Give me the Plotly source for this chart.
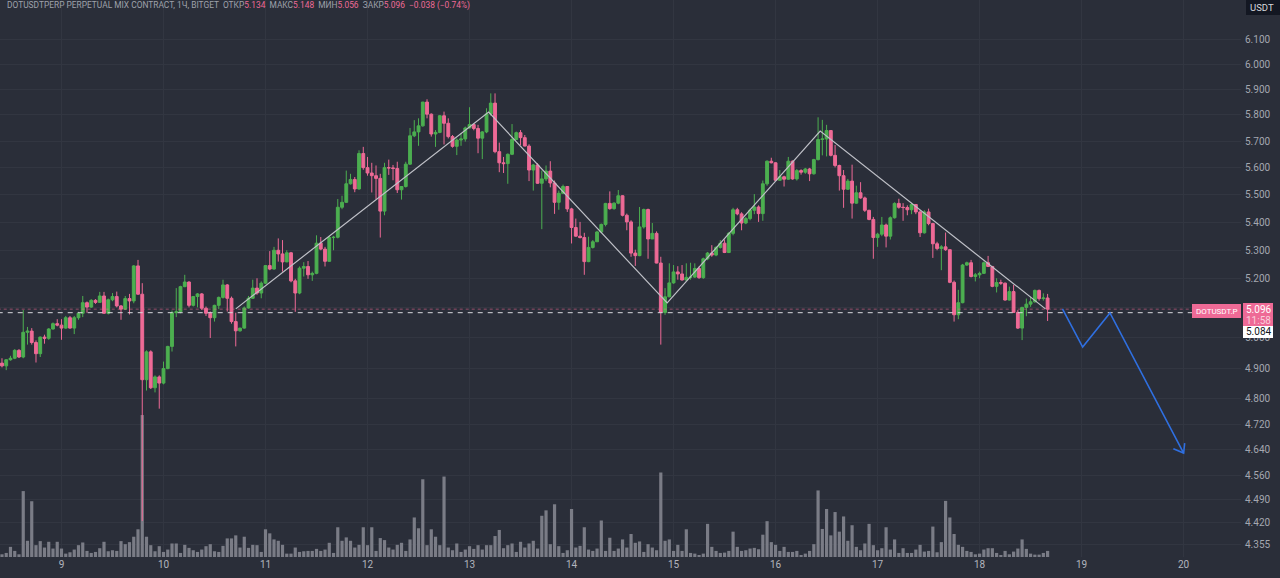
# -*- coding: utf-8 -*-
import pandas as pd
import plotly.graph_objects as go

# hourly candles, first one at 09:00 on the 8th
first_bar = "2023-06-08 09:00"

opens = [
    4.893, 4.916, 4.907, 4.927, 4.932, 4.958, 4.936, 5.018, 5.022, 4.984,
    4.947, 5.002, 4.998, 5.029, 5.047, 5.042, 5.032, 5.067, 5.032, 5.067,
    5.082, 5.118, 5.103, 5.126, 5.119, 5.141, 5.082, 5.128, 5.139, 5.107,
    5.096, 5.132, 5.124, 5.245, 5.147, 4.862, 4.953, 4.836, 4.871, 4.851,
    4.898, 4.971, 5.084, 5.087, 5.173, 5.189, 5.109, 5.139, 5.148, 5.099,
    5.082, 5.067, 5.109, 5.136, 5.179, 5.133, 5.054, 5.023, 5.032, 5.100,
    5.133, 5.168, 5.151, 5.185, 5.246, 5.234, 5.300, 5.287, 5.259, 5.291,
    5.193, 5.151, 5.237, 5.243, 5.214, 5.219, 5.325, 5.304, 5.261, 5.345,
    5.346, 5.454, 5.472, 5.540, 5.556, 5.521, 5.653, 5.600, 5.580, 5.570,
    5.560, 5.440, 5.600, 5.599, 5.597, 5.518, 5.530, 5.613, 5.720, 5.735,
    5.758, 5.850, 5.803, 5.727, 5.733, 5.797, 5.768, 5.717, 5.680, 5.704,
    5.708, 5.750, 5.763, 5.748, 5.711, 5.735, 5.804, 5.846, 5.660, 5.618,
    5.615, 5.650, 5.706, 5.732, 5.713, 5.681, 5.591, 5.610, 5.542, 5.558,
    5.587, 5.543, 5.472, 5.505, 5.530, 5.448, 5.381, 5.350, 5.345, 5.260,
    5.310, 5.330, 5.365, 5.392, 5.468, 5.449, 5.469, 5.496, 5.425, 5.401,
    5.290, 5.281, 5.383, 5.446, 5.340, 5.360, 5.255, 5.085, 5.138, 5.186,
    5.224, 5.217, 5.196, 5.205, 5.206, 5.236, 5.204, 5.270, 5.290, 5.283,
    5.310, 5.325, 5.292, 5.360, 5.445, 5.430, 5.397, 5.413, 5.443, 5.455,
    5.431, 5.540, 5.624, 5.618, 5.553, 5.566, 5.557, 5.624, 5.558, 5.589,
    5.583, 5.595, 5.577, 5.630, 5.706, 5.708, 5.740, 5.646, 5.608, 5.570,
    5.520, 5.550, 5.469, 5.507, 5.488, 5.443, 5.410, 5.345, 5.357, 5.390,
    5.350, 5.416, 5.468, 5.454, 5.453, 5.445, 5.464, 5.437, 5.362, 5.437,
    5.395, 5.323, 5.306, 5.312, 5.302, 5.188, 5.077, 5.118, 5.248, 5.256,
    5.208, 5.214, 5.219, 5.256, 5.243, 5.174, 5.187, 5.185, 5.127, 5.156,
    5.085, 5.032, 5.102, 5.113, 5.121, 5.160, 5.132, 5.134,
]
highs = [
    4.921, 4.932, 4.929, 4.940, 4.962, 4.962, 5.093, 5.036, 5.032, 4.991,
    5.004, 5.010, 5.032, 5.051, 5.062, 5.062, 5.073, 5.073, 5.073, 5.087,
    5.141, 5.122, 5.130, 5.130, 5.155, 5.155, 5.132, 5.151, 5.156, 5.110,
    5.141, 5.148, 5.248, 5.266, 5.185, 4.958, 4.958, 4.876, 4.876, 4.921,
    4.973, 5.091, 5.168, 5.176, 5.214, 5.191, 5.141, 5.151, 5.151, 5.105,
    5.088, 5.111, 5.139, 5.197, 5.182, 5.139, 5.084, 5.033, 5.105, 5.141,
    5.197, 5.202, 5.191, 5.248, 5.297, 5.312, 5.342, 5.336, 5.300, 5.294,
    5.200, 5.243, 5.258, 5.262, 5.225, 5.353, 5.347, 5.312, 5.351, 5.351,
    5.484, 5.496, 5.589, 5.577, 5.565, 5.665, 5.678, 5.640, 5.618, 5.608,
    5.577, 5.618, 5.630, 5.610, 5.622, 5.530, 5.622, 5.750, 5.780, 5.787,
    5.851, 5.861, 5.806, 5.742, 5.800, 5.813, 5.787, 5.723, 5.710, 5.730,
    5.755, 5.830, 5.766, 5.762, 5.738, 5.826, 5.884, 5.884, 5.694, 5.640,
    5.653, 5.765, 5.736, 5.742, 5.723, 5.688, 5.614, 5.617, 5.589, 5.608,
    5.624, 5.552, 5.515, 5.537, 5.532, 5.452, 5.413, 5.401, 5.362, 5.348,
    5.336, 5.369, 5.395, 5.470, 5.512, 5.472, 5.517, 5.498, 5.431, 5.407,
    5.302, 5.455, 5.449, 5.449, 5.397, 5.367, 5.277, 5.168, 5.254, 5.248,
    5.244, 5.248, 5.254, 5.256, 5.254, 5.243, 5.274, 5.294, 5.318, 5.314,
    5.336, 5.338, 5.365, 5.452, 5.452, 5.436, 5.419, 5.449, 5.502, 5.461,
    5.552, 5.627, 5.637, 5.620, 5.591, 5.570, 5.640, 5.627, 5.595, 5.594,
    5.599, 5.599, 5.633, 5.791, 5.781, 5.762, 5.742, 5.685, 5.611, 5.591,
    5.558, 5.611, 5.533, 5.546, 5.493, 5.445, 5.419, 5.362, 5.419, 5.395,
    5.421, 5.472, 5.485, 5.469, 5.461, 5.469, 5.466, 5.443, 5.443, 5.449,
    5.398, 5.330, 5.318, 5.363, 5.302, 5.194, 5.162, 5.252, 5.260, 5.266,
    5.220, 5.225, 5.260, 5.280, 5.245, 5.202, 5.197, 5.187, 5.173, 5.179,
    5.093, 5.104, 5.132, 5.138, 5.163, 5.163, 5.150, 5.148,
]
lows = [
    4.884, 4.902, 4.893, 4.924, 4.929, 4.933, 4.932, 4.977, 4.977, 4.918,
    4.936, 4.980, 4.993, 5.027, 5.038, 4.993, 5.030, 5.030, 5.012, 5.060,
    5.069, 5.084, 5.100, 5.114, 5.118, 5.080, 5.078, 5.123, 5.102, 5.060,
    5.093, 5.078, 5.116, 5.145, 4.425, 4.827, 4.832, 4.821, 4.769, 4.847,
    4.896, 4.954, 5.069, 5.082, 5.171, 5.102, 5.105, 5.102, 5.093, 5.073,
    4.999, 5.054, 5.096, 5.132, 5.088, 5.047, 4.971, 5.020, 5.030, 5.098,
    5.131, 5.145, 5.133, 5.182, 5.230, 5.232, 5.260, 5.225, 5.258, 5.188,
    5.087, 5.147, 5.208, 5.200, 5.193, 5.216, 5.300, 5.243, 5.260, 5.300,
    5.342, 5.447, 5.470, 5.537, 5.509, 5.518, 5.592, 5.570, 5.508, 5.484,
    5.345, 5.425, 5.573, 5.553, 5.506, 5.482, 5.526, 5.610, 5.715, 5.682,
    5.755, 5.787, 5.717, 5.678, 5.730, 5.687, 5.710, 5.675, 5.647, 5.682,
    5.698, 5.748, 5.741, 5.654, 5.632, 5.730, 5.797, 5.654, 5.583, 5.580,
    5.540, 5.647, 5.704, 5.685, 5.680, 5.550, 5.515, 5.540, 5.375, 5.550,
    5.527, 5.430, 5.445, 5.502, 5.437, 5.324, 5.348, 5.342, 5.214, 5.258,
    5.306, 5.330, 5.362, 5.385, 5.445, 5.445, 5.465, 5.421, 5.371, 5.277,
    5.245, 5.279, 5.377, 5.270, 5.340, 5.254, 4.977, 5.077, 5.137, 5.183,
    5.197, 5.194, 5.194, 5.197, 5.203, 5.200, 5.200, 5.265, 5.277, 5.279,
    5.306, 5.290, 5.290, 5.353, 5.425, 5.371, 5.393, 5.407, 5.429, 5.401,
    5.405, 5.533, 5.616, 5.552, 5.552, 5.530, 5.555, 5.555, 5.552, 5.574,
    5.577, 5.550, 5.574, 5.627, 5.646, 5.642, 5.642, 5.601, 5.515, 5.452,
    5.517, 5.413, 5.467, 5.485, 5.437, 5.407, 5.270, 5.312, 5.350, 5.310,
    5.338, 5.413, 5.449, 5.405, 5.425, 5.429, 5.429, 5.347, 5.359, 5.389,
    5.273, 5.300, 5.230, 5.298, 5.185, 5.054, 5.062, 5.116, 5.245, 5.205,
    5.191, 5.202, 5.217, 5.241, 5.171, 5.153, 5.179, 5.125, 5.125, 5.083,
    5.029, 4.992, 5.072, 5.104, 5.118, 5.125, 5.125, 5.056,
]
closes = [
    4.916, 4.907, 4.927, 4.932, 4.958, 4.936, 5.018, 5.022, 4.984, 4.947,
    5.002, 4.998, 5.029, 5.047, 5.042, 5.032, 5.067, 5.032, 5.067, 5.082,
    5.118, 5.103, 5.126, 5.119, 5.141, 5.082, 5.128, 5.139, 5.107, 5.096,
    5.132, 5.124, 5.245, 5.147, 4.862, 4.953, 4.836, 4.871, 4.851, 4.898,
    4.971, 5.084, 5.087, 5.173, 5.189, 5.109, 5.139, 5.148, 5.099, 5.082,
    5.067, 5.109, 5.136, 5.179, 5.133, 5.054, 5.023, 5.032, 5.100, 5.133,
    5.168, 5.151, 5.185, 5.246, 5.234, 5.300, 5.287, 5.259, 5.291, 5.193,
    5.151, 5.237, 5.243, 5.214, 5.219, 5.325, 5.304, 5.261, 5.345, 5.346,
    5.454, 5.472, 5.540, 5.556, 5.521, 5.653, 5.600, 5.580, 5.570, 5.560,
    5.440, 5.600, 5.599, 5.597, 5.518, 5.530, 5.613, 5.720, 5.735, 5.758,
    5.850, 5.803, 5.727, 5.733, 5.797, 5.768, 5.717, 5.680, 5.704, 5.708,
    5.750, 5.763, 5.748, 5.711, 5.735, 5.804, 5.846, 5.660, 5.618, 5.615,
    5.650, 5.706, 5.732, 5.713, 5.681, 5.591, 5.610, 5.542, 5.558, 5.587,
    5.543, 5.472, 5.505, 5.530, 5.448, 5.381, 5.350, 5.345, 5.260, 5.310,
    5.330, 5.365, 5.392, 5.468, 5.449, 5.469, 5.496, 5.425, 5.401, 5.290,
    5.281, 5.383, 5.446, 5.340, 5.360, 5.255, 5.085, 5.138, 5.186, 5.224,
    5.217, 5.196, 5.205, 5.206, 5.236, 5.204, 5.270, 5.290, 5.283, 5.310,
    5.325, 5.292, 5.360, 5.445, 5.430, 5.397, 5.413, 5.443, 5.455, 5.431,
    5.540, 5.624, 5.618, 5.553, 5.566, 5.557, 5.624, 5.558, 5.589, 5.583,
    5.595, 5.577, 5.630, 5.706, 5.708, 5.740, 5.646, 5.608, 5.570, 5.520,
    5.550, 5.469, 5.507, 5.488, 5.443, 5.410, 5.345, 5.357, 5.390, 5.350,
    5.416, 5.468, 5.454, 5.453, 5.445, 5.464, 5.437, 5.362, 5.437, 5.395,
    5.323, 5.306, 5.312, 5.302, 5.188, 5.077, 5.118, 5.248, 5.256, 5.208,
    5.214, 5.219, 5.256, 5.243, 5.174, 5.187, 5.185, 5.127, 5.156, 5.085,
    5.032, 5.102, 5.113, 5.121, 5.160, 5.132, 5.134, 5.096,
]
volumes = [
    6, 8, 12, 30, 18, 8, 195, 48, 165, 35,
    47, 28, 45, 25, 45, 25, 10, 14, 22, 35,
    43, 18, 12, 15, 26, 45, 17, 20, 18, 47,
    38, 44, 60, 82, 420, 60, 35, 17, 32, 15,
    22, 40, 40, 12, 36, 27, 20, 15, 22, 32,
    38, 17, 15, 33, 55, 55, 64, 28, 60, 27,
    36, 35, 15, 82, 70, 52, 48, 36, 10, 10,
    28, 15, 17, 18, 18, 24, 18, 22, 42, 12,
    88, 48, 58, 48, 28, 36, 88, 35, 88, 18,
    56, 50, 28, 22, 36, 42, 18, 52, 117, 85,
    230, 35, 82, 60, 35, 238, 28, 20, 40, 15,
    22, 32, 24, 35, 22, 35, 35, 62, 80, 26,
    35, 40, 15, 45, 28, 40,
    48, 25, 122, 138, 38, 156, 32, 12, 20, 142,
    28, 33, 88, 22, 18, 25, 108, 18, 57, 18,
    25, 52, 28, 68, 42, 46, 15, 38, 28, 20,
    250, 48, 52, 18, 36, 18, 82, 12, 10, 6,
    10, 98, 30, 18, 12, 13, 18, 75, 30, 18,
    20, 25, 27, 23, 66, 106, 44, 36, 18, 30,
    15, 15, 18, 5, 10, 18, 38, 197, 83, 142,
    64, 133, 75, 120, 48, 94, 30, 20, 40, 98,
    35, 20, 26, 88, 22, 52, 12, 26, 12, 12,
    22, 36, 16, 18, 90, 14, 44, 166, 117, 68,
    36, 30, 18, 15, 8, 10, 22, 26, 26, 12,
    5, 18, 8, 16, 25, 52, 24, 10, 7, 7,
    12, 18,
]

# hand drawn lines on the chart
zigzag_time = ["2023-06-10 17:00", "2023-06-13 04:30", "2023-06-14 22:30", "2023-06-16 10:30", "2023-06-18 15:30"]
zigzag_price = [5.097, 5.811, 5.117, 5.738, 5.097]
forecast_time = ["2023-06-18 19:30", "2023-06-19 00:15", "2023-06-19 06:40", "2023-06-20 00:00"]
forecast_price = [5.097, 4.969, 5.083, 4.630]
arrow_time = ["2023-06-19 21:35", "2023-06-20 00:00", "2023-06-20 00:15"]
arrow_price = [4.643, 4.630, 4.661]

# 5.100 sits behind the last price box, so its label stays empty
price_ticks = [6.1, 6.0, 5.9, 5.8, 5.7, 5.6, 5.5, 5.4, 5.3, 5.2, 5.1, 5.0, 4.9, 4.8, 4.72, 4.64, 4.56, 4.49, 4.42, 4.355]
price_labels = ["6.100", "6.000", "5.900", "5.800", "5.700", "5.600", "5.500", "5.400", "5.300", "5.200", "",
                "5.000", "4.900", "4.800", "4.720", "4.640", "4.560", "4.490", "4.420", "4.355"]
last_price = 5.096
bid_price = 5.084

BG = "#2a2e39"
UP = "#4caf50"
DOWN = "#ee6a96"
GRID = "#323641"
TXT = "#a4a7b0"
FONT = "Roboto"

W_PLOT, H_PLOT = 1241, 557


def px(x):
    return x / W_PLOT


def py(y):
    return 1 - y / H_PLOT


times = pd.date_range(first_bar, periods=len(closes), freq="h")

fig = go.Figure()
fig.add_trace(go.Bar(x=times, y=volumes, yaxis="y", width=2700000,
                     marker=dict(color="#7a7c86", line_width=0)))
fig.add_trace(go.Candlestick(x=times, open=opens, high=highs, low=lows, close=closes, yaxis="y2",
                             whiskerwidth=0,
                             increasing=dict(line=dict(color=UP, width=1), fillcolor=UP),
                             decreasing=dict(line=dict(color=DOWN, width=1), fillcolor=DOWN)))

line_ends = ["2023-06-08 09:00", "2023-06-20 13:30"]
fig.add_trace(go.Scatter(x=line_ends, y=[last_price, last_price], yaxis="y2", mode="lines",
                         line=dict(color="rgba(238,106,150,0.55)", width=1, dash="dot")))
fig.add_trace(go.Scatter(x=[line_ends[0], "2023-06-20 02:30"], y=[bid_price, bid_price], yaxis="y2", mode="lines",
                         line=dict(color="#d8d9de", width=1, dash="5px,5px")))
fig.add_trace(go.Scatter(x=zigzag_time, y=zigzag_price, yaxis="y2", mode="lines",
                         line=dict(color="#bfc0c7", width=1.2)))
fig.add_trace(go.Scatter(x=forecast_time, y=forecast_price, yaxis="y2", mode="lines",
                         line=dict(color="#2f6fe0", width=1.6)))
fig.add_trace(go.Scatter(x=arrow_time, y=arrow_price, yaxis="y2", mode="lines",
                         line=dict(color="#2f6fe0", width=1.6)))

fig.update_layout(
    width=1280, height=578,
    margin=dict(l=0, r=39, t=0, b=21),
    paper_bgcolor=BG, plot_bgcolor=BG,
    showlegend=False, boxgap=0.05,
    font=dict(family=FONT, size=10, color=TXT),
    xaxis=dict(type="date", range=["2023-06-08 09:32", "2023-06-20 13:30"], rangeslider=dict(visible=False),
               tickvals=pd.date_range("2023-06-09", "2023-06-20", freq="D"), tickformat="%-d",
               tickfont=dict(size=10, color="#b2b5be"), ticks="", showgrid=True, gridcolor=GRID, gridwidth=1,
               zeroline=False, showline=False),
    yaxis=dict(range=[0, 1648], visible=False, showgrid=False),
    yaxis2=dict(type="log", range=[0.6355, 0.7967], overlaying="y", side="right",
                tickvals=price_ticks, ticktext=price_labels, ticks="", tickfont=dict(size=10, color=TXT),
                ticklabelstandoff=3,
                showgrid=True, gridcolor=GRID, gridwidth=1, zeroline=False, showline=False),
)

# header and the boxes on the price scale
sp = '<span style="color:%s">%%s</span>' % DOWN
header = ("DOTUSDTPERP PERPETUAL MIX CONTRACT, 1Ч, BITGET  ОТКР" + sp % "5.134" + "  МАКС" + sp % "5.148"
          + "  МИН" + sp % "5.056" + "  ЗАКР" + sp % "5.096" + "  " + sp % "−0.038 (−0.74%)")
fig.add_annotation(text=header, xref="paper", yref="paper", x=px(5), y=py(5.5), xanchor="left", yanchor="middle",
                   showarrow=False, font=dict(size=8.4, color="#9ea1aa", family=FONT))


def box(x0, y0, x1, y1, color):
    fig.add_shape(type="rect", xref="paper", yref="paper", x0=px(x0), x1=px(x1), y0=py(y0), y1=py(y1),
                  fillcolor=color, line_width=0, layer="above")


def label(text, x, y, color, size=10):
    fig.add_annotation(text=text, xref="paper", yref="paper", x=px(x), y=py(y), xanchor="center", yanchor="middle",
                       showarrow=False, font=dict(size=size, color=color, family=FONT))


box(1246, 0, 1280, 15, "#131722")
label("USDT", 1262, 7.5, "#d6d8de", 9.5)
box(1192, 304, 1241, 318, DOWN)
label("DOTUSDT.P", 1216.5, 311, "#ffffff", 8)
box(1243, 303, 1273, 326, DOWN)
label("5.096", 1258, 309.5, "#ffffff", 10)
label("11:58", 1258, 320, "#f9cfdc", 10)
box(1243, 326, 1273, 338, "#ffffff")
label("5.084", 1258, 332, "#131722", 10)

fig.write_html("out.html", config={"displayModeBar": False},
               post_script="document.body.style.margin='0';document.body.style.background='%s';" % BG)
